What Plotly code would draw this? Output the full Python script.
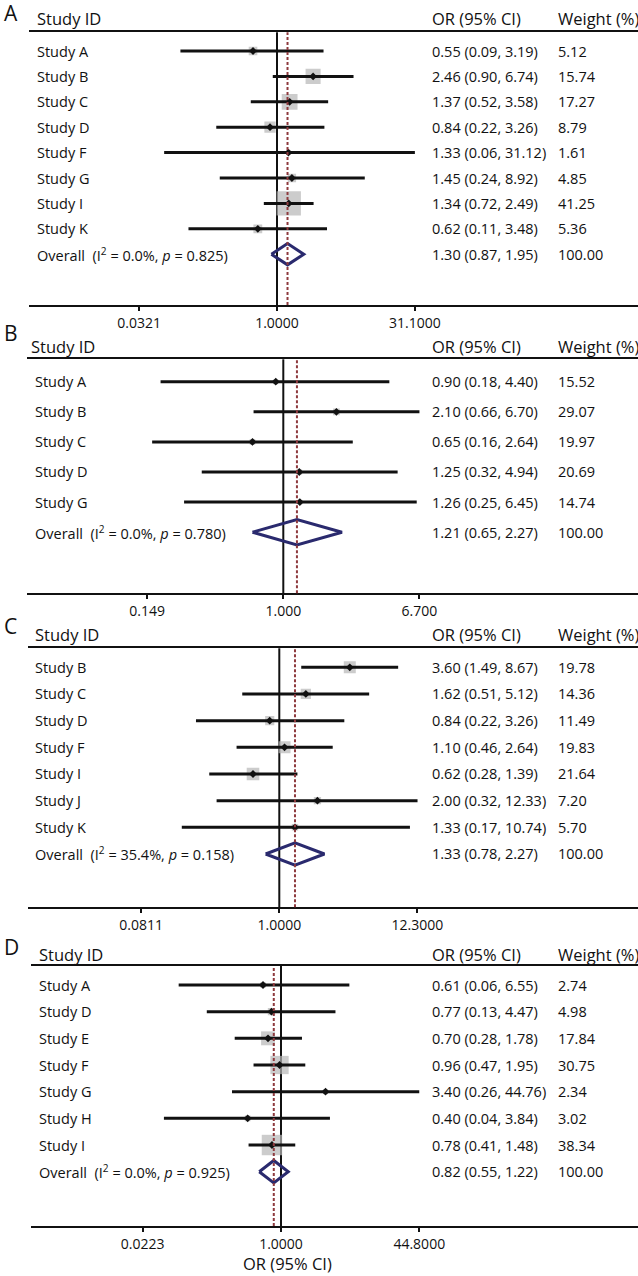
import math
import plotly.graph_objects as go

W, H = 638, 1276
FONT = "Open Sans"

# ---------------- data ----------------
panel_letters = ["A", "B", "C", "D"]

studies_A = ["Study A", "Study B", "Study C", "Study D", "Study F", "Study G", "Study I", "Study K"]
or_A = [0.55, 2.46, 1.37, 0.84, 1.33, 1.45, 1.34, 0.62]
lo_A = [0.09, 0.90, 0.52, 0.22, 0.06, 0.24, 0.72, 0.11]
hi_A = [3.19, 6.74, 3.58, 3.26, 31.12, 8.92, 2.49, 3.48]
w_A = [5.12, 15.74, 17.27, 8.79, 1.61, 4.85, 41.25, 5.36]
overall_A = [1.30, 0.87, 1.95]
i2_A, p_A = "0.0", "0.825"
tickvals_A = [0.0321, 1.0, 31.1]
ticktext_A = ["0.0321", "1.0000", "31.1000"]

studies_B = ["Study A", "Study B", "Study C", "Study D", "Study G"]
or_B = [0.90, 2.10, 0.65, 1.25, 1.26]
lo_B = [0.18, 0.66, 0.16, 0.32, 0.25]
hi_B = [4.40, 6.70, 2.64, 4.94, 6.45]
w_B = [15.52, 29.07, 19.97, 20.69, 14.74]
overall_B = [1.21, 0.65, 2.27]
i2_B, p_B = "0.0", "0.780"
tickvals_B = [0.149, 1.0, 6.7]
ticktext_B = ["0.149", "1.000", "6.700"]

studies_C = ["Study B", "Study C", "Study D", "Study F", "Study I", "Study J", "Study K"]
or_C = [3.60, 1.62, 0.84, 1.10, 0.62, 2.00, 1.33]
lo_C = [1.49, 0.51, 0.22, 0.46, 0.28, 0.32, 0.17]
hi_C = [8.67, 5.12, 3.26, 2.64, 1.39, 12.33, 10.74]
w_C = [19.78, 14.36, 11.49, 19.83, 21.64, 7.20, 5.70]
overall_C = [1.33, 0.78, 2.27]
i2_C, p_C = "35.4", "0.158"
tickvals_C = [0.0811, 1.0, 12.3]
ticktext_C = ["0.0811", "1.0000", "12.3000"]

studies_D = ["Study A", "Study D", "Study E", "Study F", "Study G", "Study H", "Study I"]
or_D = [0.61, 0.77, 0.70, 0.96, 3.40, 0.40, 0.78]
lo_D = [0.06, 0.13, 0.28, 0.47, 0.26, 0.04, 0.41]
hi_D = [6.55, 4.47, 1.78, 1.95, 44.76, 3.84, 1.48]
w_D = [2.74, 4.98, 17.84, 30.75, 2.34, 3.02, 38.34]
overall_D = [0.82, 0.55, 1.22]
i2_D, p_D = "0.0", "0.925"
tickvals_D = [0.0223, 1.0, 44.8]
ticktext_D = ["0.0223", "1.0000", "44.8000"]

header_labels = ["Study ID", "OR (95% CI)", "Weight (%)"]
x_title = "OR (95% CI)"

data = [
    (studies_A, or_A, lo_A, hi_A, w_A, overall_A, i2_A, p_A, tickvals_A, ticktext_A),
    (studies_B, or_B, lo_B, hi_B, w_B, overall_B, i2_B, p_B, tickvals_B, ticktext_B),
    (studies_C, or_C, lo_C, hi_C, w_C, overall_C, i2_C, p_C, tickvals_C, ticktext_C),
    (studies_D, or_D, lo_D, hi_D, w_D, overall_D, i2_D, p_D, tickvals_D, ticktext_D),
]

# ---------------- layout geometry (pixels) ----------------
geom = [
    dict(letter_y=13, head_y=18, line_y=32.3, row0=51.0, sp=25.4, axis_y=305.0,
         left=28.5, null_px=277.0, ppd=92.35, name_x=35, head_x=35, sq_k=3.8),
    dict(letter_y=333, head_y=346.5, line_y=359.3, row0=381.7, sp=30.1, axis_y=593.3,
         left=27.0, null_px=283.3, ppd=164.8, name_x=32.5, head_x=28.5, sq_k=1.25),
    dict(letter_y=626, head_y=634.5, line_y=648.3, row0=667.3, sp=26.67, axis_y=907.3,
         left=27.5, null_px=279.3, ppd=126.7, name_x=32.5, head_x=32.5, sq_k=2.7),
    dict(letter_y=947, head_y=954.5, line_y=966.0, row0=985.0, sp=26.67, axis_y=1226.0,
         left=30.5, null_px=281.0, ppd=83.75, name_x=36.5, head_x=36.5, sq_k=3.3),
]

OR_X, WT_X = 430.0, 555.5
LETTER_X = 2.0
BLACK = "#111111"
GRAY = "#b7b7b7"
NAVY = "#2a2a6e"
MAROON = "#8e3a3e"

def py(ypx):
    return 1 - ypx / H

fig = go.Figure()
annotations = []
shapes = []
layout_axes = {}

for k, (g, d) in enumerate(zip(geom, data)):
    studies, ors, los, his, ws, ov, i2, pv, tv, tt = d
    n = len(studies)
    sfx = "" if k == 0 else str(k + 1)
    xa, ya = "x" + sfx, "y" + sfx

    a = -(g["null_px"] - g["left"]) / g["ppd"]
    b = a + (W - g["left"]) / g["ppd"]
    ytop = (g["line_y"] - g["row0"]) / g["sp"]
    ybot = (g["axis_y"] - g["row0"]) / g["sp"]

    layout_axes["xaxis" + sfx] = dict(
        type="log", domain=[g["left"] / W, 1], range=[a, b], anchor=ya,
        showline=True, mirror=True, linecolor=BLACK, linewidth=2,
        ticks="outside", ticklen=4, tickwidth=2, tickcolor=BLACK,
        tickvals=tv, ticktext=tt, tickfont=dict(family=FONT, size=14, color=BLACK),
        showgrid=False, zeroline=False, fixedrange=True,
    )
    layout_axes["yaxis" + sfx] = dict(
        domain=[py(g["axis_y"]), py(g["line_y"])], range=[ybot, ytop], anchor=xa,
        visible=False, showgrid=False, zeroline=False, fixedrange=True,
    )

    rows = list(range(n))

    # null line and overall dotted line
    shapes.append(dict(type="line", xref=xa, yref=ya + " domain", x0=1, x1=1, y0=0, y1=1,
                       line=dict(color=BLACK, width=2), layer="below"))
    shapes.append(dict(type="line", xref=xa, yref=ya + " domain", x0=ov[0], x1=ov[0], y0=0, y1=1,
                       line=dict(color=MAROON, width=2, dash="3px,2px"), layer="above"))

    # weight boxes
    fig.add_trace(go.Scatter(
        x=ors, y=rows, xaxis=xa, yaxis=ya, mode="markers", hoverinfo="skip",
        marker=dict(symbol="square", color=GRAY, size=[g["sq_k"] * math.sqrt(w) for w in ws],
                    line=dict(width=0)),
    ))
    # CI lines
    cx, cy = [], []
    for r, lo, hi in zip(rows, los, his):
        cx += [lo, hi, None]
        cy += [r, r, None]
    fig.add_trace(go.Scatter(x=cx, y=cy, xaxis=xa, yaxis=ya, mode="lines", hoverinfo="skip",
                             line=dict(color=BLACK, width=3)))
    # point estimates
    fig.add_trace(go.Scatter(x=ors, y=rows, xaxis=xa, yaxis=ya, mode="markers", hoverinfo="skip",
                             marker=dict(symbol="diamond", color=BLACK, size=6, line=dict(width=0))))
    # overall diamond
    h = 0.42
    fig.add_trace(go.Scatter(
        x=[ov[1], ov[0], ov[2], ov[0], ov[1]], y=[n, n - h, n, n + h, n],
        xaxis=xa, yaxis=ya, mode="lines", hoverinfo="skip",
        line=dict(color=NAVY, width=3),
    ))

    # text
    body = dict(family=FONT, size=14.5, color=BLACK)
    head = dict(family=FONT, size=16.5, color=BLACK)
    annotations.append(dict(text=panel_letters[k], x=LETTER_X / W, y=py(g["letter_y"]), xref="paper", yref="paper",
                            xanchor="left", yanchor="middle", showarrow=False,
                            font=dict(family=FONT, size=21, color=BLACK)))
    annotations.append(dict(text=header_labels[0], x=g["head_x"] / W, y=py(g["head_y"]), xref="paper", yref="paper",
                            xanchor="left", yanchor="middle", showarrow=False, font=head))
    annotations.append(dict(text=header_labels[1], x=OR_X / W, y=py(g["head_y"]), xref="paper", yref="paper",
                            xanchor="left", yanchor="middle", showarrow=False, font=head))
    annotations.append(dict(text=header_labels[2], x=WT_X / W, y=py(g["head_y"]), xref="paper", yref="paper",
                            xanchor="left", yanchor="middle", showarrow=False, font=head))
    labels = studies + ["Overall\u00a0\u00a0(I<sup>2</sup> = %s%%, <i>p</i> = %s)" % (i2, pv)]
    ci_txt = ["%.2f (%.2f, %.2f)" % (o, lo, hi) for o, lo, hi in zip(ors, los, his)]
    ci_txt.append("%.2f (%.2f, %.2f)" % (ov[0], ov[1], ov[2]))
    wt_txt = ["%.2f" % w for w in ws] + ["100.00"]
    for r, (lab, ct, wt) in enumerate(zip(labels, ci_txt, wt_txt)):
        for txt, xp in ((lab, g["name_x"]), (ct, OR_X), (wt, WT_X)):
            annotations.append(dict(text=txt, x=xp / W, y=r, xref="paper", yref=ya,
                                    xanchor="left", yanchor="middle", showarrow=False, font=body))

annotations.append(dict(text=x_title, x=287 / W, y=py(1263.5), xref="paper", yref="paper",
                        xanchor="center", yanchor="middle", showarrow=False,
                        font=dict(family=FONT, size=16.5, color=BLACK)))

fig.update_layout(
    width=W, height=H, margin=dict(l=0, r=0, t=0, b=0),
    paper_bgcolor="white", plot_bgcolor="white", showlegend=False,
    annotations=annotations, shapes=shapes, **layout_axes,
)

fig.write_html(
    "out.html",
    config={"displayModeBar": False},
    post_script="document.body.style.margin='0';document.body.style.overflow='hidden';",
)
